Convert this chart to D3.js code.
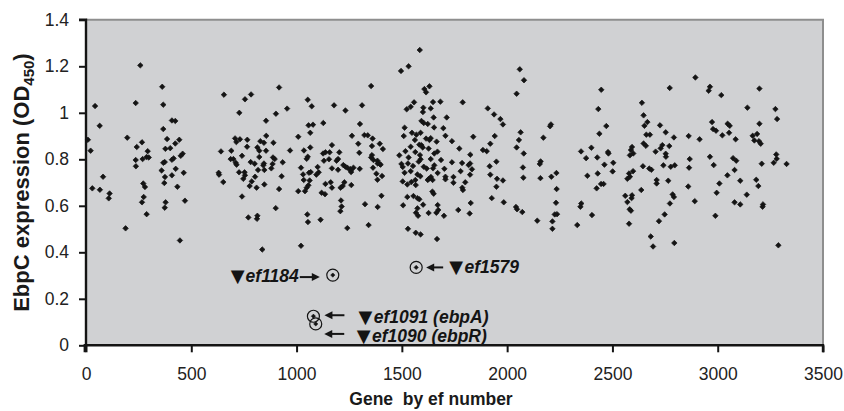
<!DOCTYPE html>
<html><head><meta charset="utf-8">
<script src="https://cdn.jsdelivr.net/npm/d3@7"></script>
<style>
html,body{margin:0;padding:0;background:#fff;}
svg{display:block;font-family:"Liberation Sans",Arial,sans-serif;}
</style></head><body>
<svg id="chart" width="844" height="411"></svg>
<script>
// ---------- DATA ----------
const xTicks = [0, 500, 1000, 1500, 2000, 2500, 3000, 3500];
const yTicks = [0, 0.2, 0.4, 0.6, 0.8, 1.0, 1.2, 1.4];
const xTitle = "Gene  by ef number";
const yTitle = "EbpC expression (OD";
const yTitleSub = "450";

// [ef gene number, EbpC expression OD450]
const genesA = [[258,1.204],[362,1.112],[43,1.029],[236,1.042],[367,1.035],[65,0.944],[408,0.967],[424,0.965],[367,0.930],[9,0.884],[196,0.893],[22,0.837],[266,0.873],[241,0.853],[385,0.887],[443,0.884],[424,0.868],[377,0.845],[400,0.848],[293,0.835],[459,0.824],[450,0.815],[236,0.797],[269,0.801],[288,0.810],[298,0.808],[374,0.788],[367,0.785],[408,0.798],[416,0.804],[237,0.770],[359,0.752],[426,0.759],[464,0.742],[81,0.725],[375,0.724],[408,0.731],[272,0.696],[280,0.681],[372,0.698],[434,0.682],[30,0.675],[66,0.669],[112,0.653],[108,0.632],[274,0.638],[266,0.615],[378,0.615],[374,0.592],[470,0.622],[288,0.564],[188,0.503],[446,0.451]];

const genesB = [[655,1.078],[755,1.058],[784,1.079],[917,1.109],[728,1.000],[855,0.966],[902,0.996],[955,1.018],[1053,1.056],[1072,1.028],[1057,0.946],[1078,0.949],[1127,0.956],[1065,0.914],[1008,0.897],[708,0.890],[714,0.874],[731,0.886],[766,0.884],[856,0.901],[828,0.878],[845,0.871],[890,0.871],[641,0.834],[690,0.837],[765,0.854],[814,0.851],[823,0.837],[855,0.837],[741,0.815],[823,0.810],[888,0.808],[896,0.801],[969,0.838],[1035,0.838],[1065,0.851],[1053,0.811],[1048,0.802],[1126,0.825],[1137,0.830],[1157,0.830],[1154,0.800],[687,0.801],[700,0.801],[711,0.785],[715,0.777],[782,0.788],[801,0.781],[845,0.782],[842,0.774],[886,0.780],[934,0.787],[817,0.754],[847,0.754],[880,0.761],[1021,0.764],[1100,0.767],[1130,0.794],[630,0.742],[632,0.734],[727,0.744],[753,0.744],[755,0.731],[803,0.725],[929,0.727],[1031,0.735],[1059,0.742],[1067,0.745],[1105,0.744],[1094,0.734],[652,0.702],[747,0.716],[787,0.705],[1034,0.711],[1062,0.709],[1056,0.688],[1137,0.694],[1162,0.701],[777,0.685],[810,0.678],[847,0.692],[917,0.672],[1008,0.663],[1040,0.663],[1048,0.678],[1119,0.656],[1135,0.650],[741,0.640],[901,0.590],[771,0.550],[814,0.557],[812,0.544],[1051,0.563],[1054,0.530],[1114,0.540],[837,0.412],[1021,0.428]];

const genesC = [[1585,1.270],[1496,1.180],[1532,1.200],[1354,1.115],[1607,1.102],[1631,1.114],[1615,1.088],[1178,1.032],[1232,1.010],[1311,1.032],[1523,1.015],[1542,1.026],[1558,1.045],[1602,1.022],[1600,1.003],[1637,1.019],[1648,1.046],[1683,1.048],[1301,0.952],[1513,0.936],[1548,0.914],[1593,0.965],[1604,0.956],[1623,0.952],[1651,0.980],[1653,0.937],[1697,0.934],[1713,0.980],[1263,0.901],[1322,0.904],[1338,0.903],[1361,0.889],[1293,0.867],[1358,0.857],[1395,0.867],[1410,0.844],[1168,0.861],[1203,0.830],[1298,0.828],[1509,0.900],[1569,0.906],[1589,0.914],[1615,0.889],[1631,0.883],[1637,0.891],[1707,0.901],[1665,0.876],[1738,0.878],[1542,0.854],[1562,0.883],[1583,0.863],[1593,0.861],[1599,0.851],[1627,0.846],[1654,0.825],[1669,0.833],[1197,0.801],[1190,0.794],[1358,0.818],[1354,0.808],[1365,0.797],[1384,0.794],[1395,0.780],[1488,0.817],[1517,0.835],[1532,0.808],[1564,0.831],[1586,0.818],[1589,0.800],[1637,0.801],[1686,0.797],[1738,0.787],[1168,0.761],[1197,0.755],[1222,0.775],[1232,0.768],[1241,0.764],[1255,0.758],[1270,0.764],[1300,0.759],[1363,0.764],[1385,0.782],[1399,0.777],[1498,0.780],[1504,0.767],[1529,0.782],[1553,0.771],[1580,0.790],[1604,0.768],[1618,0.760],[1648,0.761],[1654,0.774],[1702,0.759],[1257,0.751],[1259,0.745],[1379,0.738],[1513,0.742],[1542,0.749],[1588,0.727],[1627,0.715],[1638,0.724],[1670,0.741],[1707,0.725],[1745,0.724],[1168,0.678],[1227,0.701],[1219,0.685],[1209,0.678],[1260,0.689],[1384,0.712],[1406,0.728],[1504,0.705],[1526,0.692],[1545,0.702],[1564,0.711],[1566,0.689],[1574,0.735],[1623,0.711],[1646,0.711],[1645,0.661],[1651,0.652],[1707,0.714],[1745,0.699],[1211,0.623],[1214,0.597],[1208,0.577],[1325,0.607],[1385,0.595],[1403,0.643],[1506,0.602],[1526,0.638],[1555,0.642],[1574,0.633],[1583,0.628],[1601,0.605],[1574,0.589],[1567,0.570],[1577,0.557],[1627,0.569],[1664,0.570],[1673,0.582],[1670,0.603],[1700,0.557],[1241,0.504],[1342,0.517],[1529,0.501],[1566,0.484],[1589,0.477],[1667,0.457]];

const genesD = [[2060,1.187],[2080,1.140],[2045,1.082],[1789,1.045],[1908,1.019],[1938,0.993],[1968,0.973],[1980,0.950],[2208,0.950],[2204,0.942],[2064,0.916],[1839,0.897],[1941,0.900],[2056,0.883],[2172,0.893],[1920,0.867],[2045,0.851],[1773,0.846],[1885,0.840],[1903,0.835],[2079,0.825],[1825,0.820],[1786,0.784],[1824,0.782],[1817,0.775],[1833,0.757],[1917,0.770],[1949,0.790],[2075,0.765],[2159,0.791],[2155,0.780],[1779,0.749],[1824,0.734],[1920,0.734],[1952,0.716],[1980,0.709],[2077,0.721],[2158,0.719],[2210,0.725],[2234,0.741],[1801,0.701],[1787,0.678],[1790,0.668],[1949,0.682],[2235,0.672],[1927,0.633],[1827,0.612],[1984,0.615],[2042,0.595],[2047,0.585],[2072,0.573],[2232,0.613],[1768,0.582],[1822,0.567],[2226,0.563],[2237,0.564],[2143,0.536],[2215,0.533],[2215,0.501],[2333,0.517]];

const genesE = [[2894,1.152],[2772,1.107],[2447,1.099],[2433,1.016],[2640,1.043],[2648,0.989],[2666,0.960],[2652,0.944],[2726,0.946],[2471,0.943],[2438,0.910],[2661,0.906],[2678,0.906],[2753,0.916],[2792,0.894],[2862,0.900],[2914,0.886],[2648,0.868],[2659,0.858],[2593,0.853],[2588,0.840],[2599,0.825],[2583,0.817],[2737,0.861],[2729,0.847],[2770,0.857],[2705,0.833],[2753,0.824],[2754,0.811],[2400,0.850],[2351,0.834],[2479,0.831],[2481,0.825],[2375,0.805],[2428,0.808],[2504,0.785],[2462,0.777],[2867,0.801],[2645,0.770],[2675,0.760],[2685,0.755],[2742,0.774],[2777,0.768],[2796,0.774],[2864,0.764],[2501,0.748],[2598,0.749],[2579,0.739],[2583,0.725],[2571,0.716],[2381,0.729],[2430,0.739],[2710,0.711],[2710,0.696],[2765,0.708],[2446,0.694],[2458,0.694],[2425,0.675],[2637,0.668],[2860,0.683],[2561,0.643],[2593,0.645],[2591,0.633],[2571,0.616],[2786,0.649],[2792,0.638],[2773,0.610],[2891,0.620],[2352,0.610],[2348,0.596],[2582,0.585],[2588,0.579],[2403,0.560],[2748,0.563],[2721,0.534],[2579,0.523],[2682,0.468],[2794,0.440],[2693,0.425]];

const genesF = [[2963,1.112],[2957,1.095],[3017,1.076],[3198,1.104],[3141,1.022],[3274,1.016],[3282,0.973],[2973,0.960],[3047,0.953],[3057,0.944],[3198,0.953],[2978,0.930],[2992,0.923],[3022,0.903],[3054,0.914],[3085,0.886],[3166,0.901],[3187,0.909],[3174,0.881],[3196,0.878],[3204,0.867],[2963,0.811],[2981,0.775],[3073,0.805],[3088,0.794],[3278,0.821],[3280,0.802],[3266,0.785],[3327,0.780],[3209,0.781],[3080,0.754],[3046,0.731],[3107,0.708],[3183,0.712],[3193,0.685],[3008,0.696],[2995,0.656],[3138,0.648],[3080,0.615],[3107,0.606],[3215,0.606],[3213,0.596],[2989,0.557],[3288,0.430]];

// highlighted low-expression mutants
const hitNames = ["ef1184", "ef1579", "ef1091 (ebpA)", "ef1090 (ebpR)"];
const hitGene  = [1172, 1568, 1080, 1091];
const hitOD    = [0.302, 0.335, 0.125, 0.092];

// ---------- CHART ----------
const svg = d3.select("#chart");
const x = d3.scaleLinear().domain([0, 3500]).range([86, 823]);
const y = d3.scaleLinear().domain([0, 1.4]).range([345.3, 19.8]);
const ink = "#141414";

// plot area
svg.append("rect").attr("x", x(0)).attr("y", y(1.4)).attr("width", x(3500) - x(0)).attr("height", y(0) - y(1.4)).attr("fill", "#d0d1d3");
svg.append("line").attr("x1", x(0)).attr("x2", x(3500) + 1).attr("y1", y(1.4)).attr("y2", y(1.4)).attr("stroke", "#8e8e8e").attr("stroke-width", 2);
svg.append("line").attr("x1", x(3500)).attr("x2", x(3500)).attr("y1", y(1.4)).attr("y2", y(0)).attr("stroke", "#8e8e8e").attr("stroke-width", 2);

// axes
const fmtY = d => d === 0 ? "0" : d3.format("~g")(d);
const yAxis = svg.append("g").attr("transform", `translate(${x(0)},0)`)
  .call(d3.axisLeft(y).tickValues(yTicks).tickFormat(fmtY).tickSize(7).tickPadding(10));
const xAxis = svg.append("g").attr("transform", `translate(0,${y(0)})`)
  .call(d3.axisBottom(x).tickValues(xTicks).tickFormat(d3.format("d")).tickSize(7).tickPadding(15));
[yAxis, xAxis].forEach(g => {
  g.select(".domain").attr("stroke", ink).attr("stroke-width", 2.4);
  g.selectAll(".tick line").attr("stroke", ink).attr("stroke-width", 2);
  g.selectAll(".tick text").attr("fill", "#222").style("font-size", "17.5px").style("font-family", "'Liberation Sans', Arial, sans-serif");
});
yAxis.select(".domain").attr("d", `M-7,${y(1.4)}H0V${y(0) + 1.2}`);
xAxis.select(".domain").attr("d", `M${x(0) - 1.2},7V0H${x(3500)}V7`);

// titles
svg.append("text").attr("x", 431).attr("y", 405).attr("text-anchor", "middle")
  .style("font-weight", "bold").style("font-size", "17.5px").style("white-space", "pre").attr("fill", "#1a1a1a").text(xTitle);
const yt = svg.append("text").attr("transform", `translate(29,${(y(0) + y(1.4)) / 2}) rotate(-90)`)
  .attr("text-anchor", "middle").style("font-weight", "bold").style("font-size", "22px").attr("fill", "#1a1a1a");
yt.append("tspan").text(yTitle);
yt.append("tspan").attr("dy", 5).style("font-size", "15px").text(yTitleSub);
yt.append("tspan").attr("dy", -5).text(")");

// points
const diamond = { draw(ctx, size) { const r = Math.sqrt(size / 2); ctx.moveTo(0, -r); ctx.lineTo(r, 0); ctx.lineTo(0, r); ctx.lineTo(-r, 0); ctx.closePath(); } };
const sym = d3.symbol().type(diamond).size(15);
const all = [].concat(genesA, genesB, genesC, genesD, genesE, genesF);
svg.append("g").selectAll("path").data(all).join("path")
  .attr("transform", d => `translate(${x(d[0])},${y(d[1])})`)
  .attr("d", sym).attr("fill", ink).attr("stroke", ink).attr("stroke-width", 0.7).attr("stroke-linejoin", "round");

// highlighted points
const hits = hitNames.map((n, i) => ({ name: n, gene: hitGene[i], od: hitOD[i] }));
const hg = svg.append("g");
hg.selectAll("path").data(hits).join("path")
  .attr("transform", d => `translate(${x(d.gene)},${y(d.od)})`)
  .attr("d", d3.symbol().type(diamond).size(9)).attr("fill", ink).attr("stroke", ink).attr("stroke-width", 0.6);
hg.selectAll("circle").data(hits).join("circle")
  .attr("cx", d => x(d.gene)).attr("cy", d => y(d.od)).attr("r", 6)
  .attr("fill", "none").attr("stroke", ink).attr("stroke-width", 1.2);

// arrows + labels
function arrow(x1, y1, x2, y2) {
  const dir = Math.sign(x2 - x1);
  svg.append("line").attr("x1", x1).attr("y1", y1).attr("x2", x2 - dir * 6).attr("y2", y2).attr("stroke", ink).attr("stroke-width", 2);
  svg.append("path").attr("d", `M${x2},${y2}L${x2 - dir * 8},${y2 - 4}L${x2 - dir * 8},${y2 + 4}Z`).attr("fill", ink);
}
function label(name, xStart, baseline, anchorEnd) {
  const g = svg.append("g");
  const t = g.append("text").attr("y", baseline).attr("fill", ink)
    .style("font-weight", "bold").style("font-style", "italic").style("font-size", "17.5px").text(name);
  const tri = g.append("text").attr("y", baseline).attr("fill", ink)
    .style("font-family", "'DejaVu Sans', sans-serif").style("font-size", "18px").text("▼");
  const triW = tri.node().getComputedTextLength();
  const tW = t.node().getComputedTextLength();
  if (anchorEnd) {
    t.attr("x", xStart - tW);
    tri.attr("x", xStart - tW - triW - 1);
  } else {
    tri.attr("x", xStart);
    t.attr("x", xStart + triW + 1.5);
  }
}
// ef1184 (label on the left)
{ const px = x(hits[0].gene), py = y(hits[0].od);
  arrow(px - 33, py + 2, px - 13, py + 2);
  label(hits[0].name, px - 34, py + 7, true); }
// ef1579 (label on the right)
{ const px = x(hits[1].gene), py = y(hits[1].od);
  arrow(px + 27, py, px + 10, py);
  label(hits[1].name, px + 33, py + 6, false); }
// ef1091
{ const px = x(hits[2].gene), py = y(hits[2].od);
  arrow(px + 31, py - 1, px + 11, py - 1);
  label(hits[2].name, px + 45, py + 7, false); }
// ef1090
{ const px = x(hits[3].gene), py = y(hits[3].od);
  arrow(px + 28.5, py + 10, px + 8.5, py + 10);
  label(hits[3].name, px + 41, py + 18.5, false); }
</script>
</body></html>
